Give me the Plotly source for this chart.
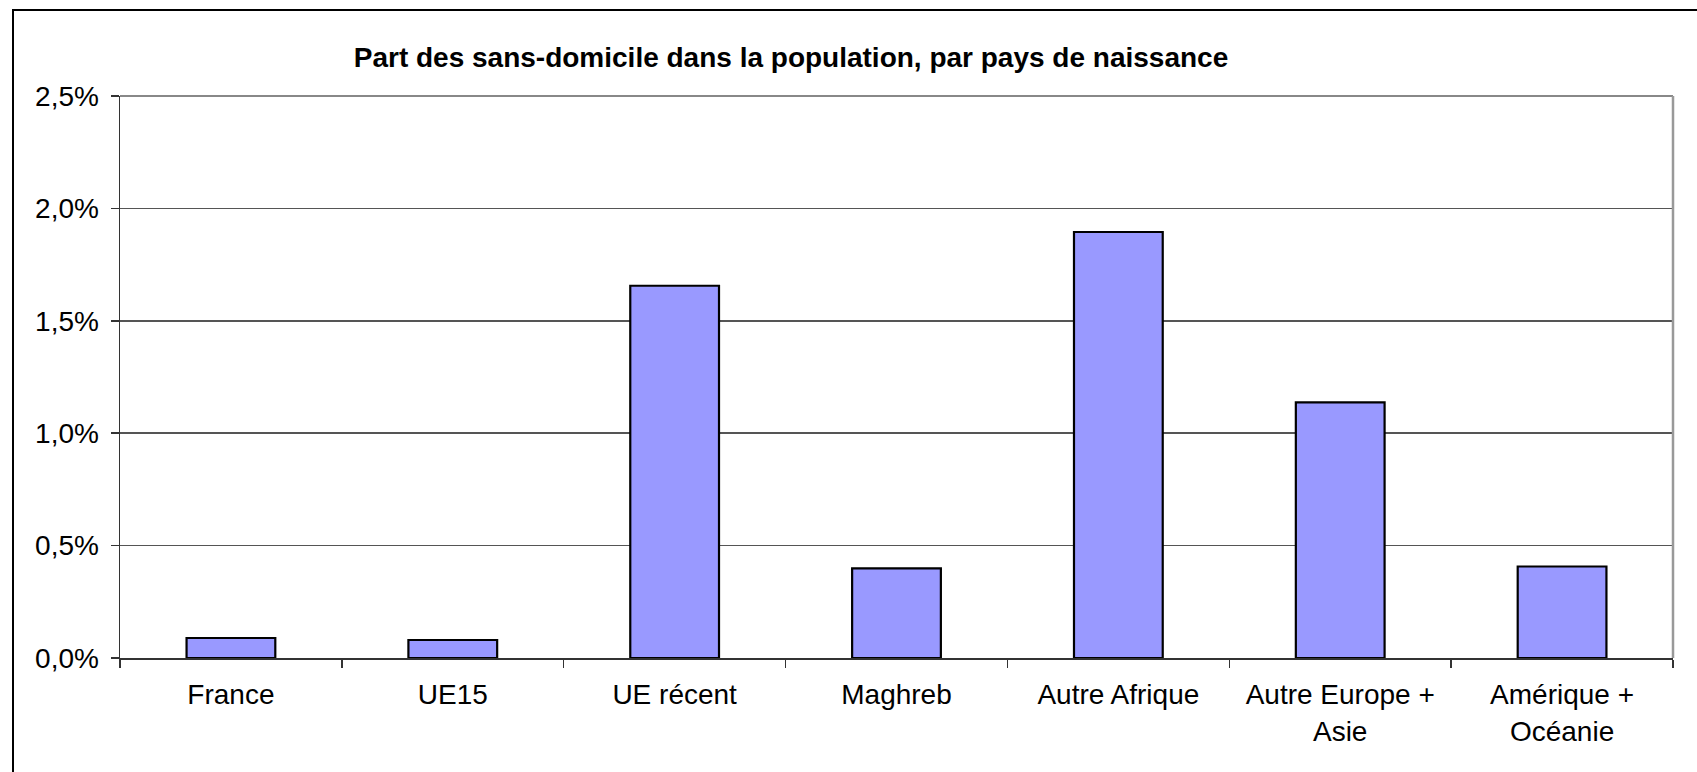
import plotly.graph_objects as go

categories = ["France", "UE15", "UE récent", "Maghreb", "Autre Afrique",
              "Autre Europe +<br>Asie", "Amérique +<br>Océanie"]
values = [0.00089, 0.00080, 0.01656, 0.00399, 0.01895, 0.01137, 0.00407]
y_ticks = [0, 0.005, 0.010, 0.015, 0.020, 0.025]
title_text = "Part des sans-domicile dans la population, par pays de naissance"

W, H = 1697, 772
L, R, T, B = 120, 24, 96, 114
pw, ph = W - L - R, H - T - B

def px_x(p):
    return (p - L) / pw

def px_y(p):
    return (H - B - p) / ph

FONT = "Liberation Sans, Arial, sans-serif"

fig = go.Figure(go.Bar(
    x=categories, y=values, width=0.4,
    marker=dict(color="#9999FF", line=dict(color="#000000", width=2.2)),
))

fig.update_layout(
    width=W, height=H, autosize=False,
    margin=dict(l=L, r=R, t=T, b=B, pad=0),
    paper_bgcolor="white", plot_bgcolor="white",
    separators=", ",
    showlegend=False,
    font=dict(family=FONT, color="#000000", size=28),
    title=dict(text="<b>" + title_text + "</b>", x=791 / W, xanchor="center",
               xref="container", y=1 - 57 / H, yanchor="middle", yref="container",
               font=dict(family=FONT, size=28, color="#000000")),
    bargap=0.6,
)

fig.update_yaxes(
    range=[0, 0.025], tickvals=y_ticks, tickformat=".1%",
    showgrid=True, gridcolor="#555555", gridwidth=1.5,
    showline=True, linecolor="#333333", linewidth=1.5,
    ticks="outside", ticklen=8, tickcolor="#333333", tickwidth=1.5,
    ticklabelstandoff=6, zeroline=False, fixedrange=True,
    tickfont=dict(family=FONT, size=28),
)
fig.update_xaxes(
    showgrid=False, showline=True, linecolor="#333333", linewidth=1.5,
    ticks="outside", ticklen=8, tickcolor="#333333", tickwidth=1.5,
    tickson="boundaries", ticklabelstandoff=11, fixedrange=True,
    tickfont=dict(family=FONT, size=28),
)

# plot-area border (grey) on the right and top
fig.add_shape(type="line", xref="paper", yref="paper", x0=1, x1=1, y0=0, y1=1,
              line=dict(color="#999999", width=2.5), layer="above")
fig.add_shape(type="line", xref="paper", yref="paper", x0=0, x1=1, y0=1, y1=1,
              line=dict(color="#888888", width=2), layer="below")

# outer chart frame (only top & left visible)
fig.add_shape(type="rect", xref="paper", yref="paper",
              x0=px_x(13), x1=px_x(W + 10), y0=px_y(H + 10), y1=px_y(10),
              line=dict(color="#000000", width=2), fillcolor="rgba(0,0,0,0)", layer="above")

fig.write_html(
    "out.html",
    config={"displayModeBar": False, "staticPlot": True},
    post_script="document.body.style.margin='0';document.body.style.overflow='hidden';",
)
